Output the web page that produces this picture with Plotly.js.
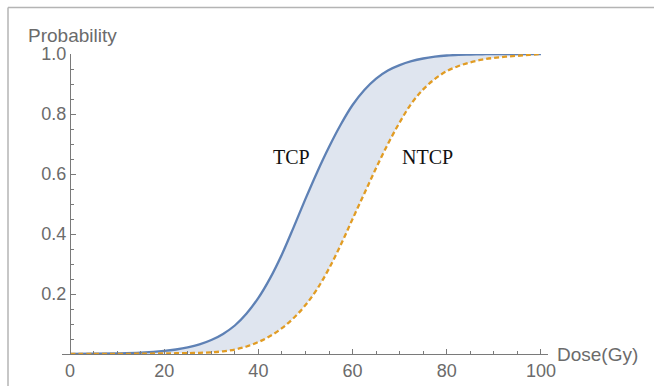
<!DOCTYPE html>
<html><head><meta charset="utf-8">
<script src="https://cdn.plot.ly/plotly-3.0.1.min.js"></script>
<style>html,body{margin:0;padding:0;background:#fff}#chart{width:654px;height:386px}</style>
</head><body><div id="chart"></div>
<script>
// Dose (Gy)
const dose = [0,5,10,15,20,22.5,25,27.5,30,32.5,35,37.5,40,42.5,45,47.5,50,52.5,55,57.5,60,62.5,65,67.5,70,72.5,75,77.5,80,82.5,85,87.5,90,92.5,95,97.5,100];
// Tumour control probability
const tcp = [0.0005,0.001,0.0022,0.0047,0.0102,0.015,0.022,0.032,0.0465,0.067,0.095,0.135,0.187,0.253,0.332,0.423,0.517,0.607,0.69,0.765,0.83,0.88,0.918,0.945,0.963,0.976,0.985,0.991,0.995,0.997,0.998,0.999,1.0,1.0,1.0,1.0,1.0];
// Normal tissue complication probability
const ntcp = [0,0.0002,0.0004,0.001,0.002,0.0025,0.003,0.004,0.0055,0.009,0.015,0.025,0.04,0.06,0.086,0.12,0.163,0.217,0.285,0.364,0.45,0.535,0.62,0.7,0.772,0.835,0.882,0.917,0.943,0.96,0.972,0.981,0.987,0.991,0.994,0.997,1.0];
const xTicks = [0,20,40,60,80,100];
const yTicks = [0.2,0.4,0.6,0.8,1.0];
const yTickText = ['0.2','0.4','0.6','0.8','1.0'];
const curveNames = ['TCP','NTCP'];
const xTitle = 'Dose(Gy)';
const yTitle = 'Probability';

const xRange = [-1.7, 101.5];
const yRange = [0, 1.0];
const yAxisPos = (0 - xRange[0]) / (xRange[1] - xRange[0]);
const grey = '#6b6b6b';
const tickFont = {family: 'Liberation Sans, Arial, sans-serif', size: 18, color: grey};

const traces = [
  {x: dose, y: ntcp, mode: 'lines', line: {width: 0, shape: 'spline', color: 'rgba(0,0,0,0)'}, hoverinfo: 'skip', showlegend: false},
  {x: dose, y: tcp, mode: 'lines', fill: 'tonexty', fillcolor: '#dfe5ef',
   line: {color: '#5e81b5', width: 2.3, shape: 'spline'}, hoverinfo: 'skip', showlegend: false},
  {x: dose, y: ntcp, mode: 'lines', line: {color: '#e19c24', width: 2.3, dash: '5px,3px', shape: 'spline'}, hoverinfo: 'skip', showlegend: false}
];

const layout = {
  width: 654, height: 386,
  margin: {l: 62, r: 106, t: 54, b: 32},
  paper_bgcolor: '#fff', plot_bgcolor: '#fff',
  showlegend: false,
  xaxis: {
    range: xRange, domain: [0, 1],
    showgrid: false, zeroline: false,
    showline: true, linecolor: '#7a7a7a', linewidth: 1.2,
    tickvals: xTicks, ticks: 'inside', ticklen: 5, tickwidth: 1, tickcolor: '#7a7a7a',
    tickfont: tickFont,
    minor: {dtick: 5, ticks: 'inside', ticklen: 3, tickcolor: '#7a7a7a', showgrid: false}
  },
  yaxis: {
    range: yRange, anchor: 'free', position: yAxisPos,
    showgrid: false, zeroline: false,
    showline: true, linecolor: '#7a7a7a', linewidth: 1.2,
    tickvals: yTicks, ticktext: yTickText, ticks: 'inside', ticklen: 5, tickwidth: 1, tickcolor: '#7a7a7a',
    tickfont: tickFont,
    minor: {tick0: 0, dtick: 0.05, ticks: 'inside', ticklen: 3, tickcolor: '#7a7a7a', showgrid: false}
  },
  annotations: [
    {text: curveNames[0], x: 47.1, y: 0.657, xref: 'x', yref: 'y', showarrow: false,
     font: {family: 'Liberation Serif, Times New Roman, serif', size: 20, color: '#111'}},
    {text: curveNames[1], x: 76, y: 0.657, xref: 'x', yref: 'y', showarrow: false,
     font: {family: 'Liberation Serif, Times New Roman, serif', size: 20, color: '#111'}},
    {text: yTitle, xref: 'paper', yref: 'paper', x: (26 - 62) / 486, y: (354 - 36) / 300,
     xanchor: 'left', yanchor: 'middle', showarrow: false,
     font: {family: 'Liberation Sans, Arial, sans-serif', size: 19, color: grey}},
    {text: xTitle, xref: 'paper', yref: 'paper', x: (555 - 62) / 486, y: (354 - 354) / 300,
     xanchor: 'left', yanchor: 'middle', showarrow: false,
     font: {family: 'Liberation Sans, Arial, sans-serif', size: 19, color: grey}}
  ],
  shapes: [
    {type: 'line', xref: 'paper', yref: 'paper', x0: (8 - 62) / 486, x1: (660 - 62) / 486,
     y0: (354 - 7.5) / 300, y1: (354 - 7.5) / 300, line: {color: '#b4b4b4', width: 1.5}},
    {type: 'line', xref: 'paper', yref: 'paper', x0: (8 - 62) / 486, x1: (8 - 62) / 486,
     y0: (354 - 7.5) / 300, y1: (354 - 400) / 300, line: {color: '#b4b4b4', width: 1.5}}
  ]
};

Plotly.newPlot('chart', traces, layout, {displayModeBar: false, staticPlot: true});
</script>
</body></html>
